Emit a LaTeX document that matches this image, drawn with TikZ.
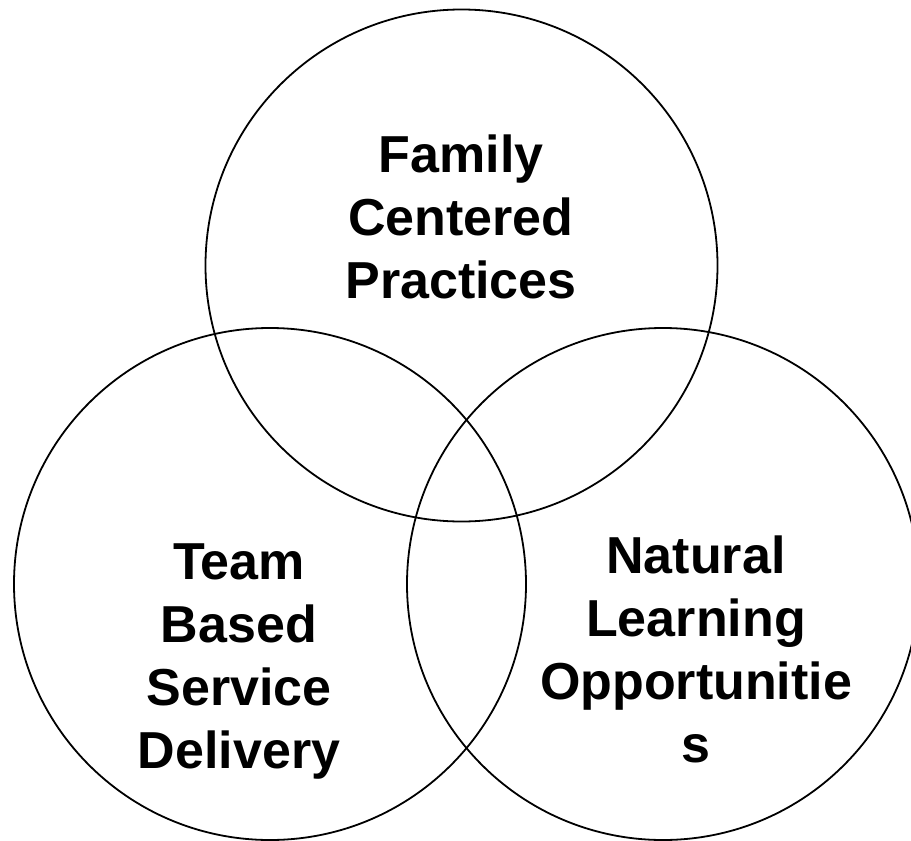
\documentclass[tikz,border=0pt]{standalone}
\usepackage{fontspec}
\setmainfont{Liberation Sans}

\begin{document}
\begin{tikzpicture}[x=1pt,y=-1pt,
    set/.style={draw,circle,line width=1.8pt,minimum size=512pt,inner sep=0pt},
    setname/.style={align=center,inner sep=0pt,
      font=\bfseries\fontsize{52}{63}\selectfont}]
  \useasboundingbox (0,0) rectangle (911,841);

  % Circles
  \node[set] (family) at (461.5,265.5) {};
  \node[set] (team) at (270,584) {};
  \node[set] (natural) at (663,584) {};

  % Labels
  \node[setname] (familyname) at (461,217) {Family\\ Centered\\ Practices};
  \node[setname] (teamname) at (239,661) {Team\\ Based\\ Service\\ Delivery};
  \node[setname] (naturalname) at (696,649) {Natural\\ Learning\\ Opportunitie\\ s};

\end{tikzpicture}
\end{document}
